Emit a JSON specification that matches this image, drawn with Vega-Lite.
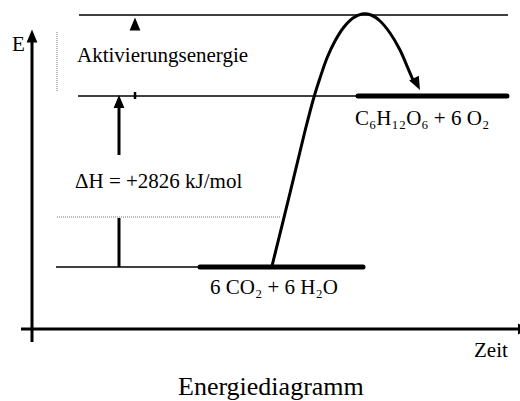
{
  "$schema": "https://vega.github.io/schema/vega-lite/v6.json",
  "width": 520,
  "height": 401,
  "autosize": {"type": "none"},
  "padding": 0,
  "background": "white",
  "config": {"view": {"stroke": null}},
  "datasets": {
    "thin": [
      {"t1": 47, "t2": 476, "e1": 314, "e2": 314},
      {"t1": 46, "t2": 473, "e1": 233, "e2": 233},
      {"t1": 24, "t2": 333, "e1": 62, "e2": 62}
    ],
    "thick": [
      {"t1": 326, "t2": 475, "e1": 233, "e2": 233},
      {"t1": 168, "t2": 331, "e1": 62, "e2": 62}
    ],
    "axes": [
      {"t1": 0, "t2": 0, "e1": -13, "e2": 289},
      {"t1": -11, "t2": 486, "e1": 0, "e2": 0},
      {"t1": 87, "t2": 87, "e1": 174, "e2": 224},
      {"t1": 87, "t2": 87, "e1": 62, "e2": 111}
    ],
    "tick": [
      {"t1": 103, "t2": 103, "e1": 230, "e2": 237}
    ],
    "dotted": [
      {"t1": 25, "t2": 25, "e1": 238, "e2": 297},
      {"t1": 25, "t2": 248, "e1": 112, "e2": 112}
    ],
    "curve": [
      {"t": 240, "e": 63},
      {"t": 258, "e": 136},
      {"t": 273, "e": 198},
      {"t": 282, "e": 232},
      {"t": 288, "e": 251},
      {"t": 295, "e": 271},
      {"t": 303, "e": 288},
      {"t": 312, "e": 302},
      {"t": 321, "e": 311},
      {"t": 330, "e": 315},
      {"t": 339, "e": 314},
      {"t": 348, "e": 308},
      {"t": 358, "e": 296},
      {"t": 368, "e": 279},
      {"t": 375, "e": 263},
      {"t": 381, "e": 249}
    ],
    "headsUp": [
      {"t": 0, "e": 293},
      {"t": 87, "e": 227.5},
      {"t": 103, "e": 305}
    ],
    "headRight": [
      {"t": 492.6, "e": 0}
    ],
    "headCurve": [
      {"t": 385, "e": 245}
    ],
    "labels": [
      {"t": -20, "e": 278, "label": "E"},
      {"t": 45, "e": 267, "label": "Aktivierungsenergie"},
      {"t": 43, "e": 141, "label": "ΔH = +2826 kJ/mol"},
      {"t": 323, "e": 204, "label": "C₆H₁₂O₆ + 6 O₂"},
      {"t": 178, "e": 35, "label": "6 CO₂ + 6 H₂O"},
      {"t": 442, "e": -28, "label": "Zeit"}
    ],
    "title": [
      {"t": 146, "e": -66, "label": "Energiediagramm"}
    ]
  },
  "layer": [
    {
      "data": {"name": "dotted"},
      "mark": {"type": "rule", "color": "#777", "strokeWidth": 1, "strokeDash": [1, 1]},
      "encoding": {
        "x": {"field": "t1", "type": "quantitative", "scale": {"domain": [-32, 488], "nice": false, "zero": false}, "axis": null},
        "x2": {"field": "t2"},
        "y": {"field": "e1", "type": "quantitative", "scale": {"domain": [-72, 329], "nice": false, "zero": false}, "axis": null},
        "y2": {"field": "e2"}
      }
    },
    {
      "data": {"name": "thin"},
      "mark": {"type": "rule", "color": "black", "strokeWidth": 1.5},
      "encoding": {
        "x": {"field": "t1", "type": "quantitative"},
        "x2": {"field": "t2"},
        "y": {"field": "e1", "type": "quantitative"},
        "y2": {"field": "e2"}
      }
    },
    {
      "data": {"name": "thick"},
      "mark": {"type": "rule", "color": "black", "strokeWidth": 5, "strokeCap": "round"},
      "encoding": {
        "x": {"field": "t1", "type": "quantitative"},
        "x2": {"field": "t2"},
        "y": {"field": "e1", "type": "quantitative"},
        "y2": {"field": "e2"}
      }
    },
    {
      "data": {"name": "axes"},
      "mark": {"type": "rule", "color": "black", "strokeWidth": 3},
      "encoding": {
        "x": {"field": "t1", "type": "quantitative"},
        "x2": {"field": "t2"},
        "y": {"field": "e1", "type": "quantitative"},
        "y2": {"field": "e2"}
      }
    },
    {
      "data": {"name": "tick"},
      "mark": {"type": "rule", "color": "black", "strokeWidth": 2.5},
      "encoding": {
        "x": {"field": "t1", "type": "quantitative"},
        "x2": {"field": "t2"},
        "y": {"field": "e1", "type": "quantitative"},
        "y2": {"field": "e2"}
      }
    },
    {
      "data": {"name": "curve"},
      "mark": {"type": "line", "color": "black", "strokeWidth": 3, "interpolate": "catmull-rom"},
      "encoding": {
        "x": {"field": "t", "type": "quantitative"},
        "y": {"field": "e", "type": "quantitative"}
      }
    },
    {
      "data": {"name": "headsUp"},
      "mark": {"type": "point", "filled": true, "color": "black", "opacity": 1, "size": 144, "shape": "M0,-1.1L0.9,1.1L-0.9,1.1Z"},
      "encoding": {
        "x": {"field": "t", "type": "quantitative"},
        "y": {"field": "e", "type": "quantitative"}
      }
    },
    {
      "data": {"name": "headRight"},
      "mark": {"type": "point", "filled": true, "color": "black", "opacity": 1, "size": 144, "angle": 90, "shape": "M0,-1.1L0.9,1.1L-0.9,1.1Z"},
      "encoding": {
        "x": {"field": "t", "type": "quantitative"},
        "y": {"field": "e", "type": "quantitative"}
      }
    },
    {
      "data": {"name": "headCurve"},
      "mark": {"type": "point", "filled": true, "color": "black", "opacity": 1, "size": 144, "angle": 153, "shape": "M0,-1.1L0.9,1.1L-0.9,1.1Z"},
      "encoding": {
        "x": {"field": "t", "type": "quantitative"},
        "y": {"field": "e", "type": "quantitative"}
      }
    },
    {
      "data": {"name": "labels"},
      "mark": {"type": "text", "font": "Liberation Serif", "fontSize": 21, "align": "left", "baseline": "alphabetic", "color": "black"},
      "encoding": {
        "x": {"field": "t", "type": "quantitative"},
        "y": {"field": "e", "type": "quantitative"},
        "text": {"field": "label"}
      }
    },
    {
      "data": {"name": "title"},
      "mark": {"type": "text", "font": "Liberation Serif", "fontSize": 26, "align": "left", "baseline": "alphabetic", "color": "black"},
      "encoding": {
        "x": {"field": "t", "type": "quantitative"},
        "y": {"field": "e", "type": "quantitative"},
        "text": {"field": "label"}
      }
    }
  ]
}
